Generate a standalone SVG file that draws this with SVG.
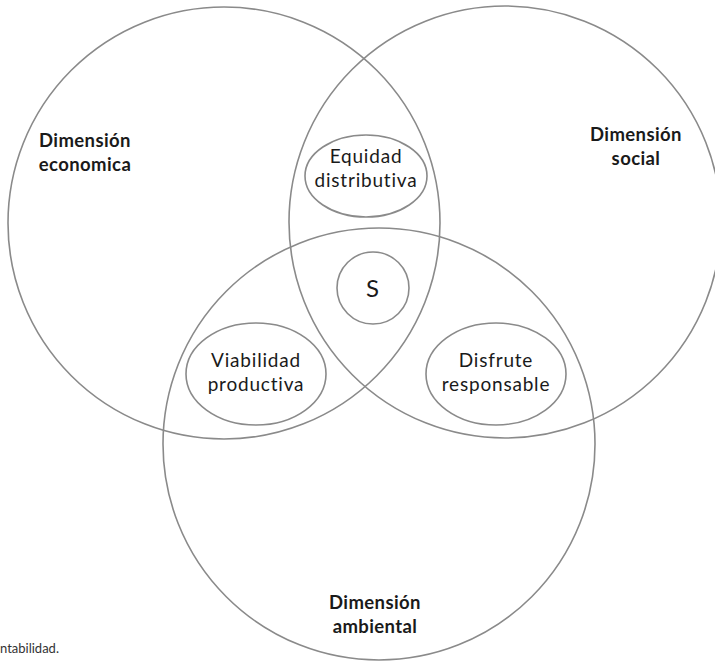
<svg xmlns="http://www.w3.org/2000/svg" width="715" height="662" viewBox="0 0 715 662">
<style>
.c{fill:none;stroke:#8a8a8a;stroke-width:1.6}
.b{font-family:Lato,"Liberation Sans",sans-serif;font-weight:bold;font-size:18.5px;letter-spacing:0.4px;fill:#1a1a1a;text-anchor:middle}
.r{font-family:Lato,"Liberation Sans",sans-serif;font-size:19px;letter-spacing:0.8px;fill:#1a1a1a;text-anchor:middle}
</style>
<rect width="715" height="662" fill="#fff"/>
<g id="economica"><circle class="c" cx="224" cy="223" r="216"/>
<text class="b" x="85" y="147">Dimensión</text><text class="b" x="85" y="171">economica</text></g>
<g id="social"><circle class="c" cx="505" cy="222" r="216"/>
<text class="b" x="636" y="141">Dimensión</text><text class="b" x="636" y="165">social</text></g>
<g id="ambiental"><circle class="c" cx="379" cy="444" r="216"/>
<text class="b" x="375" y="609">Dimensión</text><text class="b" x="375" y="633">ambiental</text></g>
<g id="equidad"><ellipse class="c" cx="366" cy="176" rx="61" ry="41"/>
<text class="r" x="366" y="163">Equidad</text><text class="r" x="366" y="187">distributiva</text></g>
<g id="s"><circle class="c" cx="373" cy="288" r="36"/>
<text class="r" x="373" y="297" style="font-size:24px">S</text></g>
<g id="viabilidad"><ellipse class="c" cx="256" cy="374" rx="70" ry="51"/>
<text class="r" x="256" y="367">Viabilidad</text><text class="r" x="256" y="391">productiva</text></g>
<g id="disfrute"><ellipse class="c" cx="496" cy="374" rx="70" ry="51"/>
<text class="r" x="496" y="367">Disfrute</text><text class="r" x="496" y="391">responsable</text></g>
<g id="connectors"/>
<text x="0" y="653" style="font-family:Lato,'Liberation Sans',sans-serif;font-size:13px;fill:#333">ntabilidad.</text>
</svg>
